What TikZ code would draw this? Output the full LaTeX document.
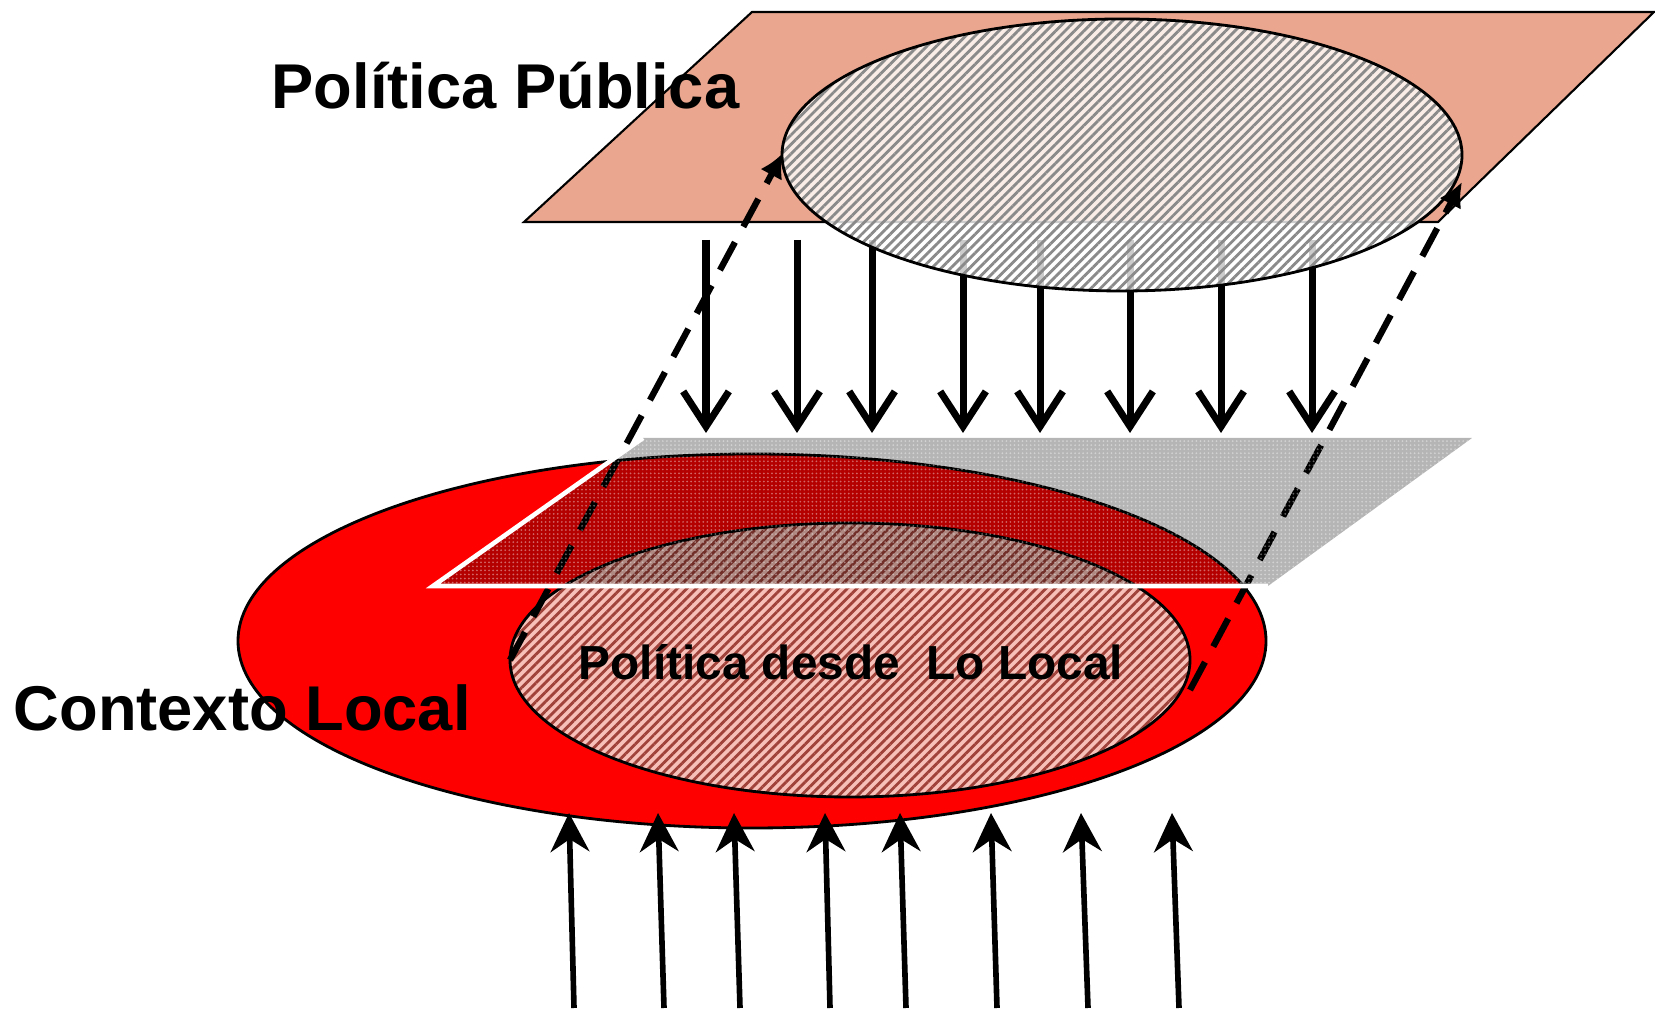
\documentclass[tikz,border=0pt]{standalone}
\usepackage{fontspec}
\setmainfont{Liberation Sans}
\usetikzlibrary{arrows.meta,patterns.meta}

\definecolor{salmon}{RGB}{234,166,142}
\definecolor{stripegray}{RGB}{138,138,138}
\definecolor{innerpink}{RGB}{247,192,184}
\definecolor{innerstripe}{RGB}{160,66,58}

\begin{document}
\begin{tikzpicture}[down/.style={-{Straight Barb[length=10pt,width=13pt]},line width=2pt},
    up/.style={-{Stealth[length=11pt,width=11pt]},line width=1.6pt},
    proj/.style={-{Latex[length=7pt,width=7pt]},line width=1.8pt,dash pattern=on 9pt off 5pt},
    hatch/.style={pattern={Lines[angle=45,distance=1.9pt,line width=0.8pt]}},
    label/.style={anchor=base west,inner sep=0pt,font=\fontsize{18}{20}\selectfont\bfseries}]
    \useasboundingbox (0,0) rectangle (16.55,10.11);

    % Politica Publica
    \draw [fill=salmon,line width=0.6pt] (5.24,7.89) -- (7.52,9.99) -- (16.54,9.99) -- (14.38,7.89) -- cycle;
    \foreach \x in {7.06,7.97,8.72,9.63,10.40,11.30,12.21,13.12}
        \draw [down] (\x,7.71) -- (\x,5.78);
    \coordinate (top) at (11.22,8.56);
    \fill [white,fill opacity=0.8] (top) ellipse [x radius=3.40,y radius=1.36];
    \fill [hatch,pattern color=stripegray] (top) ellipse [x radius=3.40,y radius=1.36];
    \draw [line width=0.8pt] (top) ellipse [x radius=3.40,y radius=1.36];
    \node [label] (pp) at (2.71,9.02) {Política Pública};

    % Contexto Local
    \coordinate (ctx) at (7.52,3.70);
    \draw [fill=red,line width=0.8pt] (ctx) ellipse [x radius=5.14,y radius=1.87];
    \coordinate (loc) at (8.50,3.51);
    \fill [innerpink] (loc) ellipse [x radius=3.40,y radius=1.37];
    \fill [hatch,pattern color=innerstripe] (loc) ellipse [x radius=3.40,y radius=1.37];
    \draw [line width=0.8pt] (loc) ellipse [x radius=3.40,y radius=1.37];

    % projection
    \coordinate (l0) at (5.10,3.51);
    \coordinate (l1) at (7.83,8.58);
    \coordinate (r0) at (11.90,3.21);
    \coordinate (r1) at (14.62,8.29);
    \draw [proj] (l0) -- (l1);
    \draw [proj] (r0) -- (r1);

    % plane
    \fill [gray!58,blend mode=multiply] (4.33,4.25) -- (6.43,5.73) -- (14.72,5.73) -- (12.68,4.25) -- cycle;
    \fill [pattern={Dots[distance=1.15pt,radius=0.28pt]},pattern color=white,fill opacity=0.4] (4.33,4.25) -- (6.43,5.73) -- (14.72,5.73) -- (12.68,4.25) -- cycle;
    \draw [white,line width=1.3pt] (6.43,5.73) -- (4.33,4.25) -- (12.68,4.25);

    \foreach \a/\b in {5.74/5.69,6.64/6.58,7.40/7.34,8.30/8.25,9.06/9.00,9.97/9.91,10.88/10.81,11.79/11.72}
        \draw [up] (\a,0.03) -- (\b,1.98);

    \node [label] (cl) at (0.13,2.80) {Contexto Local};
    \node [label,font=\fontsize{13.6}{16}\selectfont\bfseries] (pl) at (5.78,3.31) {Política desde\ \ Lo Local};
\end{tikzpicture}
\end{document}
